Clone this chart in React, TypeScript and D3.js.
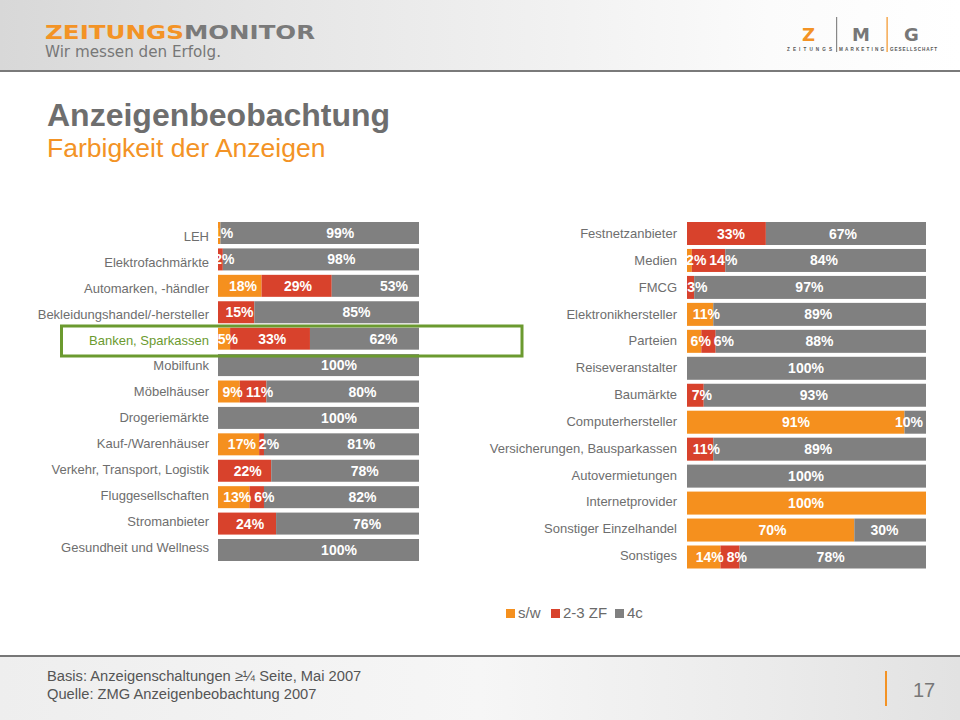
import React from "react";
import * as d3 from "d3";

const leftCats = [
  "LEH",
  "Elektrofachmärkte",
  "Automarken, -händler",
  "Bekleidungshandel/-hersteller",
  "Banken, Sparkassen",
  "Mobilfunk",
  "Möbelhäuser",
  "Drogeriemärkte",
  "Kauf-/Warenhäuser",
  "Verkehr, Transport, Logistik",
  "Fluggesellschaften",
  "Stromanbieter",
  "Gesundheit und Wellness",
];
const leftSW = [1, 0, 18, 0, 5, 0, 9, 0, 17, 0, 13, 0, 0];
const leftZF = [0, 2, 29, 15, 33, 0, 11, 0, 2, 22, 6, 24, 0];
const left4C = [99, 98, 53, 85, 62, 100, 80, 100, 81, 78, 82, 76, 100];

const rightCats = [
  "Festnetzanbieter",
  "Medien",
  "FMCG",
  "Elektronikhersteller",
  "Parteien",
  "Reiseveranstalter",
  "Baumärkte",
  "Computerhersteller",
  "Versicherungen, Bausparkassen",
  "Autovermietungen",
  "Internetprovider",
  "Sonstiger Einzelhandel",
  "Sonstiges",
];
const rightSW = [0, 2, 0, 11, 6, 0, 0, 91, 0, 0, 100, 70, 14];
const rightZF = [33, 14, 3, 0, 6, 0, 7, 0, 11, 0, 0, 0, 8];
const right4C = [67, 84, 97, 89, 88, 100, 93, 10, 89, 100, 0, 30, 78];

const seriesKeys = ["sw", "zf", "c4"];
const seriesNames = ["s/w", "2-3 ZF", "4c"];
const colors = ["#f5901e", "#d8422c", "#808080"];
const highlight = "Banken, Sparkassen";

const FONT = "Arial, 'Liberation Sans', Helvetica, sans-serif";

type Panel = {
  id: string;
  cats: string[];
  sw: number[];
  zf: number[];
  c4: number[];
  xRange: [number, number];
  labelRange: [number, number];
  clip: [number, number];
  barY: [number, number];
  labelY: [number, number];
  labelX: number;
  barH: number;
};

function textW(s: string) {
  // approximate width of bold 14px digits + "%"
  return (s.length - 1) * 7.8 + 12.4;
}

function BarPanel({ p }: { p: Panel }) {
  const table = p.cats.map((c, i) => ({ cat: c, sw: p.sw[i], zf: p.zf[i], c4: p.c4[i] }));
  const stacked = d3.stack<any>().keys(seriesKeys)(table);
  const x = d3.scaleLinear().domain([0, 100]).range(p.xRange);
  const xl = d3.scaleLinear().domain([0, 100]).range(p.labelRange);
  const y = d3.scalePoint<string>().domain(p.cats).range(p.barY);
  const ly = d3.scalePoint<string>().domain(p.cats).range(p.labelY);

  const valueLabels: { key: string; x: number; y: number; t: string }[] = [];
  p.cats.forEach((c, i) => {
    let prevRight = -Infinity;
    stacked.forEach((s, si) => {
      const d: any = s[i];
      const v = d[1] - d[0];
      if (v <= 0) return;
      const t = `${v}%`;
      const w = textW(t);
      let cx = xl((d[0] + d[1]) / 2);
      if (cx - w / 2 < prevRight + 3) cx = prevRight + 3 + w / 2;
      prevRight = cx + w / 2;
      valueLabels.push({ key: `${si}-${i}`, x: cx, y: (y(c) as number) + 5, t });
    });
  });

  return (
    <g>
      <defs>
        <clipPath id={p.id}>
          <rect x={p.clip[0]} y={0} width={p.clip[1] - p.clip[0]} height={720} />
        </clipPath>
      </defs>
      {p.cats.map((c) => (
        <text
          key={c}
          x={p.labelX}
          y={ly(c)}
          textAnchor="end"
          fontSize={13}
          fontFamily={FONT}
          fill={c === highlight ? "#6b9a2f" : "#6e6e6e"}
        >
          {c}
        </text>
      ))}
      <g clipPath={`url(#${p.id})`}>
        {stacked.map((s, si) =>
          s.map((d: any, i: number) => {
            const w = x(d[1]) - x(d[0]);
            if (w <= 0) return null;
            return (
              <rect
                key={`${si}-${i}`}
                x={x(d[0])}
                y={(y(p.cats[i]) as number) - p.barH / 2}
                width={w}
                height={p.barH}
                fill={colors[si]}
              />
            );
          })
        )}
        {valueLabels.map((l) => (
          <text
            key={`t${l.key}`}
            x={l.x}
            y={l.y}
            textAnchor="middle"
            fontSize={14}
            fontWeight="bold"
            fontFamily={FONT}
            fill="#ffffff"
          >
            {l.t}
          </text>
        ))}
      </g>
    </g>
  );
}

export default function App() {
  const left: Panel = {
    id: "clipL",
    cats: leftCats,
    sw: leftSW,
    zf: leftZF,
    c4: left4C,
    xRange: [218, 460],
    labelRange: [222, 456],
    clip: [218, 419],
    barY: [233, 550],
    labelY: [241, 551.5],
    labelX: 209,
    barH: 22,
  };
  const right: Panel = {
    id: "clipR",
    cats: rightCats,
    sw: rightSW,
    zf: rightZF,
    c4: right4C,
    xRange: [687, 926],
    labelRange: [694, 918],
    clip: [687, 926],
    barY: [233.5, 557],
    labelY: [238, 560],
    labelX: 677,
    barH: 23,
  };

  const legendX = [506, 551, 615];

  return (
    <svg
      width={960}
      height={720}
      style={{ position: "absolute", left: 0, top: 0, background: "#fff" }}
    >
      <defs>
        <linearGradient id="hdr" x1="0" x2="1" y1="0" y2="0">
          <stop offset="0" stopColor="#d8d8d8" />
          <stop offset="0.3" stopColor="#e6e6e6" />
          <stop offset="0.55" stopColor="#f0f0f0" />
          <stop offset="0.8" stopColor="#fbfbfb" />
          <stop offset="1" stopColor="#ffffff" />
        </linearGradient>
        <linearGradient id="ftr" x1="0" x2="1" y1="0" y2="0">
          <stop offset="0" stopColor="#eeeeee" />
          <stop offset="0.5" stopColor="#f6f6f6" />
          <stop offset="0.8" stopColor="#ebebeb" />
          <stop offset="1" stopColor="#e2e2e2" />
        </linearGradient>
      </defs>
      <rect x={0} y={0} width={960} height={720} fill="#ffffff" />
      {/* header */}
      <rect x={0} y={0} width={960} height={70} fill="url(#hdr)" />
      <rect x={0} y={70} width={960} height={2} fill="#7a7a7a" />
      <text x={45} y={39} fontSize={19} fontWeight="bold" fontFamily="'DejaVu Sans', sans-serif" textLength={139} lengthAdjust="spacingAndGlyphs" fill="#f39325">
        ZEITUNGS
      </text>
      <text x={184} y={39} fontSize={19} fontWeight="bold" fontFamily="'DejaVu Sans', sans-serif" textLength={131} lengthAdjust="spacingAndGlyphs" fill="#7a7a7a">
        MONITOR
      </text>
      <text x={45} y={57} fontSize={16} fontFamily="'DejaVu Sans', sans-serif" textLength={176} lengthAdjust="spacingAndGlyphs" fill="#777777">
        Wir messen den Erfolg.
      </text>
      {/* ZMG logo */}
      <text x={802} y={41} fontSize={18} fontWeight="bold" fontFamily="'DejaVu Sans', sans-serif" fill="#f39325">Z</text>
      <text x={852} y={41} fontSize={18} fontWeight="bold" fontFamily="'DejaVu Sans', sans-serif" fill="#777777">M</text>
      <text x={904} y={41} fontSize={18} fontWeight="bold" fontFamily="'DejaVu Sans', sans-serif" fill="#777777">G</text>
      <rect x={836} y={17} width={1.2} height={35} fill="#888888" />
      <rect x={886.5} y={17} width={1.2} height={35} fill="#f39325" />
      <text x={787} y={50.5} fontSize={4.6} fontWeight="bold" fontFamily={FONT} textLength={45} lengthAdjust="spacing" fill="#555">ZEITUNGS</text>
      <text x={839} y={50.5} fontSize={4.6} fontWeight="bold" fontFamily={FONT} textLength={45} lengthAdjust="spacing" fill="#555">MARKETING</text>
      <text x={890} y={50.5} fontSize={4.6} fontWeight="bold" fontFamily={FONT} textLength={47} lengthAdjust="spacing" fill="#555">GESELLSCHAFT</text>
      {/* titles */}
      <text x={47} y={126} fontSize={32} fontWeight="bold" fontFamily={FONT} fill="#6e6e6e">
        Anzeigenbeobachtung
      </text>
      <text x={47} y={157} fontSize={26.5} fontFamily={FONT} fill="#f39325">
        Farbigkeit der Anzeigen
      </text>
      {/* charts */}
      <BarPanel p={left} />
      <BarPanel p={right} />
      {/* highlight */}
      <rect x={61.5} y={326} width={460.5} height={30} fill="none" stroke="#6b9a2f" strokeWidth={3} />
      {/* legend */}
      {seriesNames.map((n, i) => (
        <g key={n}>
          <rect x={legendX[i]} y={609} width={9} height={9} fill={colors[i]} />
          <text x={legendX[i] + 12} y={618} fontSize={15} fontFamily={FONT} fill="#6a6a6a">
            {n}
          </text>
        </g>
      ))}
      {/* footer */}
      <rect x={0} y={657} width={960} height={63} fill="url(#ftr)" />
      <rect x={0} y={655} width={960} height={2} fill="#777777" />
      <text x={47} y={681} fontSize={14.7} fontFamily={FONT} fill="#555555">
        Basis: Anzeigenschaltungen ≥¼ Seite, Mai 2007
      </text>
      <text x={47} y={699} fontSize={14.7} fontFamily={FONT} fill="#555555">
        Quelle: ZMG Anzeigenbeobachtung 2007
      </text>
      <rect x={885} y={671} width={2} height={35} fill="#f39325" />
      <text x={913} y={697} fontSize={20} fontFamily={FONT} fill="#777777">
        17
      </text>
    </svg>
  );
}
